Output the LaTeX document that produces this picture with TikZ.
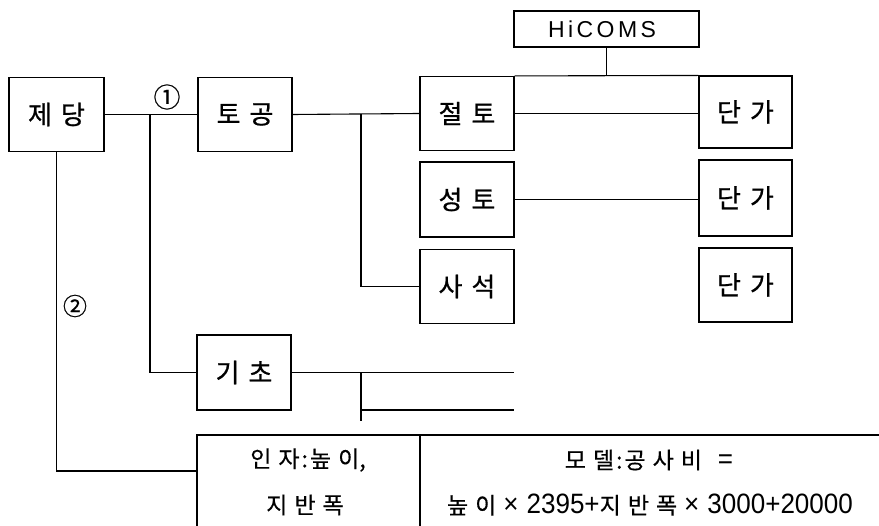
\documentclass[tikz,border=0pt]{standalone}
\usepackage{fontspec}
\setmainfont{Liberation Sans}
\newfontfamily\kr[FakeBold=0.8]{Noto Sans CJK KR}
\newfontfamily\krn[FakeBold=0.5]{Noto Sans CJK KR}
\newfontfamily\latn[FakeStretch=0.93]{Liberation Sans}
\newfontfamily\hic[LetterSpace=15]{Liberation Sans}
\newcommand{\gp}{\hspace{9pt}}
\newcommand{\cg}{\hspace{7pt}}
\newcommand{\num}[1]{{\latn\fontsize{28}{30}\selectfont #1}}
\begin{document}
\begin{tikzpicture}[x=1pt,y=-1pt,line width=1.1pt,
  stepbox/.style={draw,line width=1.1pt,minimum width=94pt,minimum height=74pt,inner sep=0pt,
    font=\kr\fontsize{26}{30}\selectfont},
  cell/.style={inner sep=0pt,font=\krn\fontsize{23}{26}\selectfont},
  mark label/.style={inner sep=0pt,font=\krn\fontsize{27}{30}\selectfont}]
\useasboundingbox (0,0) rectangle (879,526);

% element boxes
\node[stepbox,minimum width=95pt] (jedang) at (56.5,114.5) {제\gp 당};
\node[stepbox] (togong) at (245,114.5) {토\gp 공};
\node[stepbox] (jeolto) at (467,113.5) {절\gp 토};
\node[stepbox,minimum height=75pt] (seongto) at (467,199.5) {성\gp 토};
\node[stepbox] (saseok) at (467,286.5) {사\gp 석};
\node[stepbox,minimum width=93pt,minimum height=72pt] (danga1) at (745.5,112) {단\gp 가};
\node[stepbox,minimum width=93pt,minimum height=76pt] (danga2) at (745.5,198) {단\gp 가};
\node[stepbox,minimum width=93pt] (danga3) at (745.5,285) {단\gp 가};
\node[stepbox,minimum height=75pt] (gicho) at (244,372.5) {기\gp 초};
\node[draw,line width=1.1pt,minimum width=185pt,minimum height=36pt,inner sep=0pt,
  font=\hic\fontsize{23}{26}\selectfont] (hicoms) at (606.5,29) {\hspace{-9pt}HiCOMS};

% branch points
\coordinate (j1) at (150,114.5);
\coordinate (j2) at (361,114.5);
\coordinate (g0) at (361,372.5);
\coordinate (g1) at (514,372.5);
\coordinate (g2) at (361,410);
\coordinate (g3) at (514,410);
\coordinate (g4) at (361,421);

% connectors
\draw (jedang.east) -- (togong.west);
\draw (j1) |- (gicho.west);
\draw (togong.east) -- (jeolto.west);
\draw (j2) |- (saseok.west);
\draw (jeolto.east) -- (jeolto.east -| danga1.west);
\draw (jeolto.north east) -- (danga1.north west);
\draw (hicoms.south) -- (hicoms.south |- jeolto.north);
\draw (seongto.east) -- (seongto.east -| danga2.west);
\draw (gicho.east) -- (g1);
\draw (g0) -- (g4);
\draw (g2) -- (g3);

% cost model table
\coordinate (tl) at (197,435);
\coordinate (tb) at (197,526);
\coordinate (tr) at (879,435);
\coordinate (dt) at (420,435);
\coordinate (db) at (420,526);
\draw (tb) -- (tl) -- (tr);
\draw (dt) -- (db);
\draw (jedang.south) |- (197,471);

\node[cell] (arg1) at (308,460) {인\cg 자\hspace{2pt}:\hspace{2pt}높\cg 이,};
\node[cell] (arg2) at (305,505) {지\cg 반\cg 폭};
\node[cell] (mod1) at (649,460) {모\cg 델\hspace{2pt}:\hspace{2pt}공\cg 사\cg 비\hspace{16pt}\num{=}};
\node[cell] (mod2) at (650,505) {높\cg 이\hspace{7pt}\num{×\hspace{8pt}2395+}지\cg 반\cg 폭\hspace{7pt}\num{×\hspace{8pt}3000+20000}};

% path markers
\node[mark label] (m1) at (167,97) {①};
\node[mark label,font=\kr\fontsize{24}{26}\selectfont] (m2) at (75,306) {②};
\end{tikzpicture}
\end{document}
